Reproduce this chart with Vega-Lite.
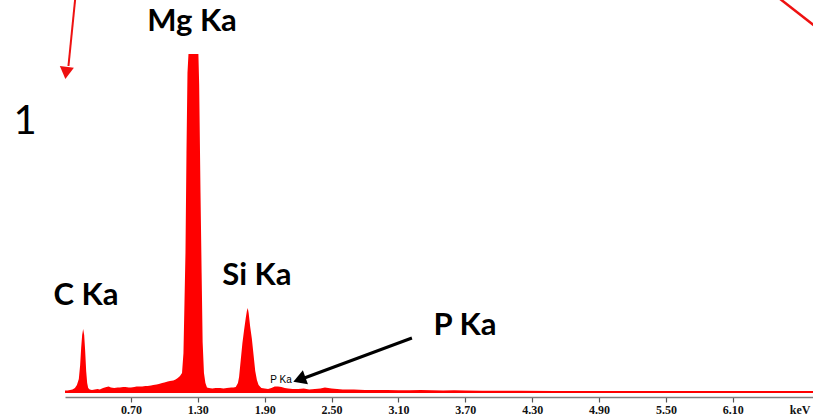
{
  "$schema": "https://vega.github.io/schema/vega-lite/v6.json",
  "width": 748,
  "height": 393,
  "autosize": {"type": "none"},
  "padding": {"left": 65, "top": 0, "right": 0, "bottom": 25},
  "background": "white",
  "config": {"view": {"stroke": null}},
  "datasets": {
    "spectrum": [
      {"keV": 0.108, "counts": 2.5}, {"keV": 0.13, "counts": 2.5}, {"keV": 0.153, "counts": 3}, {"keV": 0.175, "counts": 3.5},
      {"keV": 0.197, "counts": 5}, {"keV": 0.215, "counts": 8}, {"keV": 0.232, "counts": 14}, {"keV": 0.244, "counts": 28},
      {"keV": 0.253, "counts": 45}, {"keV": 0.262, "counts": 58}, {"keV": 0.271, "counts": 64}, {"keV": 0.28, "counts": 58},
      {"keV": 0.289, "counts": 42}, {"keV": 0.298, "counts": 22}, {"keV": 0.307, "counts": 10}, {"keV": 0.316, "counts": 5},
      {"keV": 0.33, "counts": 3.5}, {"keV": 0.35, "counts": 3}, {"keV": 0.375, "counts": 3.5}, {"keV": 0.4, "counts": 4},
      {"keV": 0.42, "counts": 3.5}, {"keV": 0.45, "counts": 5}, {"keV": 0.48, "counts": 6}, {"keV": 0.5, "counts": 6.5},
      {"keV": 0.52, "counts": 5.5}, {"keV": 0.55, "counts": 5}, {"keV": 0.58, "counts": 5.5}, {"keV": 0.6, "counts": 5.5},
      {"keV": 0.63, "counts": 6}, {"keV": 0.65, "counts": 6}, {"keV": 0.68, "counts": 5.5}, {"keV": 0.7, "counts": 5.5},
      {"keV": 0.73, "counts": 6}, {"keV": 0.75, "counts": 6.5}, {"keV": 0.78, "counts": 6.5}, {"keV": 0.8, "counts": 6.5},
      {"keV": 0.83, "counts": 7}, {"keV": 0.85, "counts": 7}, {"keV": 0.88, "counts": 7.5}, {"keV": 0.9, "counts": 8},
      {"keV": 0.93, "counts": 8.5}, {"keV": 0.95, "counts": 9}, {"keV": 0.98, "counts": 10}, {"keV": 1.0, "counts": 10.5},
      {"keV": 1.03, "counts": 11.5}, {"keV": 1.05, "counts": 12}, {"keV": 1.08, "counts": 12.5}, {"keV": 1.1, "counts": 13.5},
      {"keV": 1.12, "counts": 15}, {"keV": 1.14, "counts": 17}, {"keV": 1.158, "counts": 20}, {"keV": 1.171, "counts": 40},
      {"keV": 1.18, "counts": 90}, {"keV": 1.189, "counts": 140}, {"keV": 1.198, "counts": 240}, {"keV": 1.207, "counts": 320},
      {"keV": 1.216, "counts": 339}, {"keV": 1.305, "counts": 339}, {"keV": 1.312, "counts": 308}, {"keV": 1.324, "counts": 200},
      {"keV": 1.334, "counts": 120}, {"keV": 1.343, "counts": 51}, {"keV": 1.355, "counts": 20}, {"keV": 1.368, "counts": 10},
      {"keV": 1.382, "counts": 5.5}, {"keV": 1.4, "counts": 5}, {"keV": 1.43, "counts": 4.5}, {"keV": 1.46, "counts": 5},
      {"keV": 1.5, "counts": 5}, {"keV": 1.53, "counts": 4.5}, {"keV": 1.56, "counts": 5}, {"keV": 1.6, "counts": 5.5},
      {"keV": 1.62, "counts": 5.5}, {"keV": 1.64, "counts": 6}, {"keV": 1.66, "counts": 10}, {"keV": 1.67, "counts": 16},
      {"keV": 1.685, "counts": 33}, {"keV": 1.7, "counts": 50}, {"keV": 1.715, "counts": 63}, {"keV": 1.73, "counts": 75},
      {"keV": 1.74, "counts": 82}, {"keV": 1.748, "counts": 85}, {"keV": 1.756, "counts": 80}, {"keV": 1.77, "counts": 66},
      {"keV": 1.785, "counts": 54}, {"keV": 1.8, "counts": 38}, {"keV": 1.815, "counts": 22}, {"keV": 1.83, "counts": 13},
      {"keV": 1.845, "counts": 8}, {"keV": 1.87, "counts": 5}, {"keV": 1.9, "counts": 4.5}, {"keV": 1.93, "counts": 4},
      {"keV": 1.96, "counts": 5}, {"keV": 1.99, "counts": 6.5}, {"keV": 2.02, "counts": 6.5}, {"keV": 2.05, "counts": 6},
      {"keV": 2.08, "counts": 5}, {"keV": 2.11, "counts": 4.5}, {"keV": 2.15, "counts": 4}, {"keV": 2.2, "counts": 4},
      {"keV": 2.25, "counts": 4.5}, {"keV": 2.3, "counts": 3.5}, {"keV": 2.35, "counts": 4}, {"keV": 2.4, "counts": 4.5},
      {"keV": 2.44, "counts": 5.5}, {"keV": 2.47, "counts": 5}, {"keV": 2.5, "counts": 4.5}, {"keV": 2.55, "counts": 4},
      {"keV": 2.6, "counts": 3.5}, {"keV": 2.65, "counts": 3.5}, {"keV": 2.7, "counts": 3.5}, {"keV": 2.8, "counts": 3},
      {"keV": 2.9, "counts": 3}, {"keV": 3.0, "counts": 3}, {"keV": 3.1, "counts": 2.8}, {"keV": 3.2, "counts": 2.8},
      {"keV": 3.3, "counts": 3}, {"keV": 3.4, "counts": 2.8}, {"keV": 3.5, "counts": 2.5}, {"keV": 3.6, "counts": 2.8},
      {"keV": 3.7, "counts": 2.5}, {"keV": 3.85, "counts": 2.3}, {"keV": 4.0, "counts": 2.3}, {"keV": 4.2, "counts": 2.2},
      {"keV": 4.5, "counts": 2.1}, {"keV": 5.0, "counts": 2}, {"keV": 5.5, "counts": 2}, {"keV": 6.0, "counts": 2},
      {"keV": 6.5, "counts": 2}, {"keV": 6.82, "counts": 2}
    ],
    "bigLabels": [
      {"keV": 1.248, "counts": 371, "label": "Mg Ka"},
      {"keV": 0.296, "counts": 97, "label": "C Ka"},
      {"keV": 1.83, "counts": 117, "label": "Si Ka"},
      {"keV": 3.697, "counts": 67, "label": "P Ka"}
    ],
    "smallLabels": [{"keV": 2.046, "counts": 13, "label": "P Ka"}],
    "panelLabels": [{"keV": -0.251, "counts": 271, "label": "1"}],
    "blackArrow": [{"keV": 3.221, "counts": 55}, {"keV": 2.22, "counts": 13.5}],
    "blackHead": [{"keV": 2.211, "counts": 13.5}],
    "redArrow": [{"keV": 0.203, "counts": 398}, {"keV": 0.139, "counts": 327}],
    "redHead": [{"keV": 0.118, "counts": 320}],
    "redLine": [{"keV": 6.479, "counts": 398}, {"keV": 6.883, "counts": 363}]
  },
  "layer": [
    {
      "data": {"name": "spectrum"},
      "mark": {"type": "area", "color": "#ff0000", "interpolate": "linear"},
      "encoding": {
        "x": {
          "field": "keV", "type": "quantitative",
          "scale": {"domain": [0.108, 6.82], "nice": false, "zero": false},
          "axis": {
            "title": null, "grid": false, "offset": 4,
            "values": [0.7, 1.3, 1.9, 2.5, 3.1, 3.7, 4.3, 4.9, 5.5, 6.1, 6.7],
            "labelExpr": "datum.value > 6.5 ? 'keV' : format(datum.value, '.2f')",
            "domainColor": "#7f7f7f", "domainWidth": 1.5,
            "tickColor": {"condition": {"test": "datum.value > 6.5", "value": "transparent"}, "value": "#555555"},
            "tickSize": 5, "tickWidth": 1.2,
            "labelFont": "Liberation Serif", "labelFontWeight": "bold", "labelFontSize": 12,
            "labelColor": "#111111", "labelPadding": 2, "labelFlush": false, "labelOverlap": false
          }
        },
        "y": {
          "field": "counts", "type": "quantitative",
          "scale": {"domain": [0, 393], "nice": false, "zero": true},
          "axis": null
        }
      }
    },
    {
      "data": {"name": "bigLabels"},
      "mark": {"type": "text", "font": "Lato", "fontWeight": "bold", "fontSize": 31, "color": "#000000", "align": "center", "baseline": "middle"},
      "encoding": {
        "x": {"field": "keV", "type": "quantitative"},
        "y": {"field": "counts", "type": "quantitative"},
        "text": {"field": "label"}
      }
    },
    {
      "data": {"name": "smallLabels"},
      "mark": {"type": "text", "font": "Liberation Sans", "fontSize": 10, "color": "#000000", "align": "center", "baseline": "middle"},
      "encoding": {
        "x": {"field": "keV", "type": "quantitative"},
        "y": {"field": "counts", "type": "quantitative"},
        "text": {"field": "label"}
      }
    },
    {
      "data": {"name": "panelLabels"},
      "mark": {"type": "text", "font": "Lato", "fontSize": 40, "color": "#000000", "align": "center", "baseline": "middle"},
      "encoding": {
        "x": {"field": "keV", "type": "quantitative"},
        "y": {"field": "counts", "type": "quantitative"},
        "text": {"field": "label"}
      }
    },
    {
      "data": {"name": "blackArrow"},
      "mark": {"type": "line", "color": "#000000", "strokeWidth": 3},
      "encoding": {
        "x": {"field": "keV", "type": "quantitative"},
        "y": {"field": "counts", "type": "quantitative"}
      }
    },
    {
      "data": {"name": "blackHead"},
      "mark": {"type": "point", "shape": "triangle-up", "filled": true, "size": 220, "angle": 250, "color": "#000000", "opacity": 1},
      "encoding": {
        "x": {"field": "keV", "type": "quantitative"},
        "y": {"field": "counts", "type": "quantitative"}
      }
    },
    {
      "data": {"name": "redArrow"},
      "mark": {"type": "line", "color": "#ee1111", "strokeWidth": 2},
      "encoding": {
        "x": {"field": "keV", "type": "quantitative"},
        "y": {"field": "counts", "type": "quantitative"}
      }
    },
    {
      "data": {"name": "redHead"},
      "mark": {"type": "point", "shape": "triangle-up", "filled": true, "size": 200, "angle": 187, "color": "#ee1111", "opacity": 1},
      "encoding": {
        "x": {"field": "keV", "type": "quantitative"},
        "y": {"field": "counts", "type": "quantitative"}
      }
    },
    {
      "data": {"name": "redLine"},
      "mark": {"type": "line", "color": "#ee1111", "strokeWidth": 2.5},
      "encoding": {
        "x": {"field": "keV", "type": "quantitative"},
        "y": {"field": "counts", "type": "quantitative"}
      }
    }
  ]
}
